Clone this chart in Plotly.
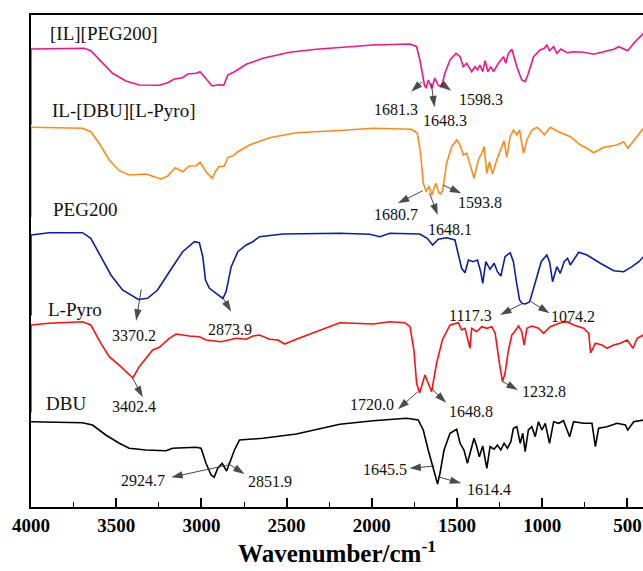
import plotly.graph_objects as go

# ---------------- data (wavenumber / cm-1, transmittance a.u. offset) ----------------
il_peg_wn = [4000, 3688, 3649, 3590, 3522, 3443, 3365, 3247, 3198, 3159, 3110, 3080, 3031, 3008, 2982,
             2937, 2914, 2894, 2869, 2845, 2806, 2737, 2639, 2482, 2325, 2188, 1992, 1776, 1737, 1718,
             1702, 1690, 1681, 1668, 1648, 1630, 1612, 1598, 1585, 1571, 1541, 1506, 1482, 1463, 1443,
             1414, 1394, 1380, 1365, 1349, 1335, 1319, 1302, 1286, 1257, 1227, 1214, 1198, 1178, 1165,
             1149, 1120, 1100, 1081, 1051, 1012, 988, 973, 957, 933, 914, 890, 855, 816, 757, 698, 639,
             580, 551, 522, 498, 463, 406]
il_peg_t = [458, 458.7, 456.3, 445.3, 433.7, 426, 422, 421.7, 424.3, 428, 429.3, 433, 433.7, 435.3, 430.3,
            421, 421.7, 422.3, 421.7, 432, 435.3, 442.7, 448.7, 454.7, 457.7, 459.2, 462, 463, 460.3, 447,
            430, 421, 419.5, 427, 418.5, 429, 422, 420.5, 424, 433.7, 447, 453.7, 450.3, 440.3, 443.7,
            435.3, 440.3, 437, 442, 435.3, 446.3, 435.3, 440.3, 435.3, 443.7, 450.3, 443.7, 453.7, 457.7, 450.3,
            440.3, 427, 425.3, 433.7, 450.3, 457, 458.7, 462, 456.3, 460.3, 453.7, 458, 454.3, 455.3, 454.7, 452.7, 455.3,
            457.7, 460.3, 457.7, 456.3, 463.7, 473.7]

il_dbu_wn = [4000, 3698, 3649, 3600, 3541, 3482, 3424, 3325, 3237, 3198, 3153, 3110, 3071, 3031, 3008,
             2973, 2937, 2918, 2898, 2865, 2845, 2816, 2786, 2718, 2600, 2443, 2188, 1992, 1767, 1733,
             1714, 1698, 1680, 1665, 1648, 1625, 1606, 1594, 1584, 1561, 1531, 1502, 1482, 1463, 1443,
             1420, 1400, 1375, 1355, 1341, 1325, 1310, 1292, 1267, 1237, 1224, 1208, 1188, 1169, 1149,
             1133, 1110, 1090, 1061, 1031, 1002, 988, 953, 904, 835, 776, 737, 698, 639, 561, 522, 498,
             453, 406]
il_dbu_t = [379.7, 378.7, 375.3, 363.7, 347, 336.3, 332, 333, 328, 331, 339.3, 335.3, 341, 341.3, 344.7,
            335.3, 328.7, 335.3, 340.3, 341, 349.7, 351, 355.3, 362, 369.3, 374.3, 376.5, 378.7, 377.7, 373.7,
            353.7, 323.7, 315.3, 321, 312, 323.7, 314, 313, 317, 343.7, 360.3, 367, 362, 352, 353.7,
            340.3, 328.7, 347, 353.7, 360.3, 333.7, 345.3, 333, 347, 360.3, 366.3, 349.7, 370.3, 377, 372,
            377, 353.7, 367, 377, 379.7, 375.3, 372, 379.7, 375.3, 370.3, 362, 358.7, 354.3, 359.7, 362, 365.3, 358.7,
            368.7, 378.7]

peg_wn = [4000, 3894, 3698, 3649, 3590, 3531, 3463, 3370, 3316, 3257, 3188, 3110, 3041, 3012, 2992,
          2976, 2953, 2914, 2874, 2855, 2825, 2786, 2737, 2698, 2659, 2522, 2188, 2012, 1953, 1894,
          1718, 1675, 1643, 1610, 1561, 1512, 1492, 1473, 1453, 1433, 1404, 1380, 1361, 1349, 1331,
          1306, 1282, 1263, 1243, 1218, 1188, 1169, 1153, 1133, 1117, 1100, 1074, 1061, 1031, 1006,
          973, 957, 939, 914, 894, 871, 851, 835, 786, 737, 659, 580, 522, 473, 433, 406]
peg_t = [272, 274.3, 274.3, 268.7, 250.3, 232, 217, 207.5, 208.7, 217, 235.3, 255.3, 265.3, 264.3, 250.3,
         227, 218.7, 213.7, 208.5, 215.3, 240.3, 255.3, 262, 265.3, 270.3, 273, 273.7, 272.7, 270.3, 273.7,
         273, 268.7, 262, 267.7, 269.3, 267, 253.7, 238.7, 234.3, 247, 245.3, 247, 235.3, 223.7, 245.3,
         237.7, 243.7, 235.3, 231, 250.3, 254.3, 245.3, 227, 207, 203.5, 203, 205, 212, 230.3, 245.3,
         252, 245.3, 225.3, 240.3, 233.7, 245.3, 248.7, 242, 254.7, 252, 243.7, 236.3, 235.3, 240.3, 245.3, 250.3]

lpyro_wn = [4000, 3894, 3698, 3649, 3590, 3541, 3473, 3402, 3365, 3325, 3286, 3247, 3188, 3149, 3071,
            3012, 2973, 2884, 2796, 2737, 2698, 2659, 2600, 2551, 2512, 2443, 2306, 2188, 1992, 1894,
            1806, 1776, 1753, 1737, 1720, 1688, 1649, 1620, 1586, 1541, 1492, 1473, 1453, 1424, 1414,
            1384, 1355, 1325, 1296, 1276, 1251, 1233, 1218, 1198, 1178, 1169, 1139, 1120, 1106, 1090,
            1061, 1022, 992, 953, 894, 855, 816, 757, 727, 716, 688, 649, 620, 580, 541, 502, 467, 443, 406]
lpyro_t = [182, 183.7, 185.3, 182, 163.7, 150.3, 140.3, 129, 140.3, 148.7, 157, 159.7, 168.7, 173, 171,
           170.3, 167, 165.3, 168.7, 167.7, 171, 172, 167.7, 167, 163, 167.7, 177, 184.3, 183, 185.3,
           184.3, 180.3, 157, 123.7, 114, 132, 115.3, 143.7, 167, 182, 184.3, 177, 178.7, 158.7, 178.7,
           175.3, 180.3, 178.7, 180.3, 173.7, 143.7, 125.3, 133.7, 157, 172, 173.7, 181, 175.3, 162, 178.7,
           181, 178.7, 173.7, 180.3, 184.3, 185.3, 182, 178.7, 173.7, 154, 163.7, 162, 158.7, 162, 163.7, 167, 158.7, 168.7, 172]

dbu_wn = [4000, 3698, 3639, 3561, 3482, 3424, 3325, 3208, 3169, 3031, 3002, 2973, 2943, 2925, 2904,
          2878, 2852, 2835, 2806, 2776, 2639, 2443, 2188, 1992, 1796, 1728, 1698, 1669, 1645, 1639,
          1614, 1600, 1576, 1541, 1502, 1482, 1459, 1439, 1420, 1400, 1384, 1369, 1349, 1325, 1306,
          1282, 1263, 1243, 1224, 1204, 1184, 1169, 1149, 1129, 1114, 1100, 1081, 1061, 1041, 1022,
          1002, 982, 957, 933, 904, 875, 839, 816, 757, 708, 688, 669, 620, 561, 512, 498, 463, 406]
dbu_t = [85.3, 84.3, 82, 72, 63.7, 58.7, 57, 56.3, 58.7, 59.7, 58.7, 43.7, 32, 29.7, 38.7,
         43.7, 36, 43.7, 57, 67, 68.7, 73, 82.8, 86.3, 88.7, 87, 77, 57, 42, 40.3,
         23, 33.7, 57, 73.7, 77.7, 63.7, 57, 43.7, 57, 68.7, 60.3, 50.3, 61, 38.7, 60.3,
         57.7, 62, 57, 63.7, 58.7, 65.3, 78.7, 80.3, 63.7, 73.7, 55.3, 77, 80.3, 70.3, 85.3,
         77, 83.7, 63.7, 85.3, 83.7, 86.3, 70.3, 85.3, 83.7, 83.7, 60.3, 78.7, 80.3, 83.7, 82, 77, 85.3, 87]

series_names = ["[IL][PEG200]", "IL-[DBU][L-Pyro]", "PEG200", "L-Pyro", "DBU"]
series_wn = [il_peg_wn, il_dbu_wn, peg_wn, lpyro_wn, dbu_wn]
series_t = [il_peg_t, il_dbu_t, peg_t, lpyro_t, dbu_t]
series_colors = ["#F0168A", "#FF8C1A", "#0F1E9E", "#FF1010", "#000000"]

# lower end of each layer's coloured left-axis segment (a.u.)
layer_bottom = [382, 290, 191.5, 94.4, None]

# peak labels: text, arrow tail (wn, T), arrow head (wn, T), label centre (wn, T)
peak_labels = [
    ("1681.3", (1704, 425.3), (1769, 415.3), (1857, 397.7)),
    ("1648.3", (1651, 423.7), (1632, 399.7), (1568, 387.0)),
    ("1598.3", (1593, 423.7), (1534, 416.3), (1358, 408.0)),
    ("1680.7", (1701, 316.3), (1847, 303.7), (1857, 292.5)),
    ("1648.1", (1661, 313.7), (1613, 292.0), (1544, 277.7)),
    ("1593.8", (1583, 322.0), (1475, 313.7), (1368, 304.3)),
    ("3370.2", (3353, 217.7), (3383, 186.3), (3393, 172.0)),
    ("2873.9", (2878, 210.3), (2825, 195.3), (2835, 177.7)),
    ("1117.3", (1123, 203.0), (1247, 192.0), (1421, 192.0)),
    ("1074.2", (1065, 205.3), (957, 193.7), (820, 191.0)),
    ("3402.4", (3403, 128.7), (3344, 109.7), (3393, 100.3)),
    ("1720.0", (1730, 115.3), (1847, 97.7), (1998, 103.0)),
    ("1648.8", (1642, 117.0), (1563, 104.3), (1417, 96.0)),
    ("1232.8", (1231, 125.3), (1143, 117.0), (992, 116.0)),
    ("2924.7", (2845, 42.0), (3177, 29.7), (3344, 27.0)),
    ("2851.9", (2845, 43.7), (2747, 33.0), (2600, 26.0)),
    ("1645.5", (1632, 41.0), (1779, 38.7), (1923, 37.7)),
    ("1614.4", (1613, 30.3), (1475, 23.7), (1313, 17.7)),
]

# series name label anchor (left edge wn, centre T)
name_pos = [(3901, 473.7), (3887, 397.0), (3881, 297.7), (3911, 197.7), (3921, 103.7)]

x_ticks = [4000, 3500, 3000, 2500, 2000, 1500, 1000, 500]

# ---------------- figure ----------------
fig = go.Figure()
for name, wn, t, col in zip(series_names, series_wn, series_t, series_colors):
    fig.add_trace(go.Scatter(x=wn, y=t, mode="lines", name=name,
                             line=dict(color=col, width=1.6), showlegend=False,
                             hoverinfo="skip"))

# arrows: thin line from peak to a filled arrowhead near the label
for txt, tail, head, lab in peak_labels:
    fig.add_trace(go.Scatter(x=[tail[0], head[0]], y=[tail[1], head[1]], mode="lines+markers",
                             line=dict(color="#333333", width=0.9),
                             marker=dict(symbol="arrow", size=[0, 12], angleref="previous",
                                         color="#000000", line=dict(width=0)),
                             showlegend=False, hoverinfo="skip"))

serif = "Liberation Serif"
annotations = []
for (name, (lx, ly)) in zip(series_names, name_pos):
    annotations.append(dict(x=lx, y=ly, xref="x", yref="y", text=name, showarrow=False,
                            xanchor="left", yanchor="middle",
                            font=dict(family=serif, size=19, color="#111111")))
for txt, tail, head, lab in peak_labels:
    annotations.append(dict(x=lab[0], y=lab[1], xref="x", yref="y", text=txt, showarrow=False,
                            xanchor="center", yanchor="middle",
                            font=dict(family=serif, size=16, color="#111111")))

shapes = []
for wn, t, col, bot in zip(series_wn, series_t, series_colors, layer_bottom):
    if bot is None:
        continue
    shapes.append(dict(type="line", xref="x", yref="y", x0=wn[0], x1=wn[0], y0=t[0], y1=bot,
                       line=dict(color=col, width=1.6), layer="above"))

fig.update_layout(
    width=643, height=571,
    margin=dict(l=31, r=0, t=15, b=64),
    paper_bgcolor="white", plot_bgcolor="white",
    annotations=annotations, shapes=shapes,
    font=dict(family=serif),
    xaxis=dict(range=[4000, 408.5], tickvals=x_ticks, ticktext=["<b>%d</b>" % v for v in x_ticks],
               showgrid=False, zeroline=False, showline=True, linecolor="black", linewidth=2,
               mirror=True, ticks="inside", ticklen=9, tickwidth=1.6, tickcolor="black",
               minor=dict(dtick=250, tick0=0, ticks="inside", ticklen=5, tickwidth=1.4, tickcolor="black"),
               tickfont=dict(family=serif, size=19, color="black"),
               title=dict(text="<b>Wavenumber/cm<sup>-1</sup></b>", standoff=8,
                          font=dict(family=serif, size=25, color="black"))),
    yaxis=dict(range=[0, 492], showgrid=False, zeroline=False, showline=True, linecolor="black",
               linewidth=1.6, ticks="", showticklabels=False),
)

fig.write_html("out.html")
